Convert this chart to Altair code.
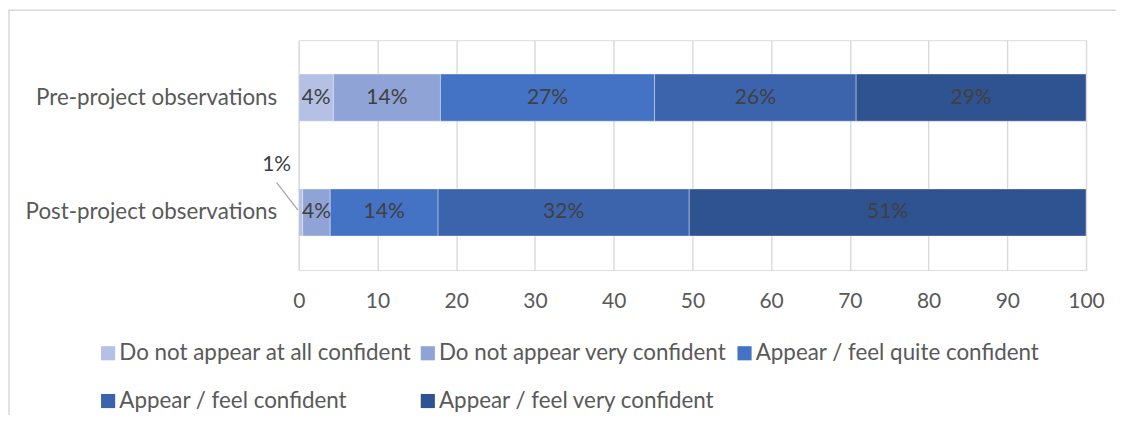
import altair as alt
import pandas as pd

categories = ["Pre-project observations", "Post-project observations"]
levels = [
    "Do not appear at all confident",
    "Do not appear very confident",
    "Appear / feel quite confident",
    "Appear / feel confident",
    "Appear / feel very confident",
]
colors = ["#b4c1e4", "#8fa3d6", "#4472c4", "#3b64ad", "#2f5291"]
pre_values = [4.4, 13.6, 27.2, 25.6, 29.2]
post_values = [0.5, 3.5, 13.7, 31.9, 50.4]
pre_labels = ["4%", "14%", "27%", "26%", "29%"]
post_labels = ["", "4%", "14%", "32%", "51%"]

# outside annotation for the small post-project segment
callout_text = ["1%"]
callout_x = [-2.8]
callout_y = [0.91]
leader_x = [-2.8, -0.1]
leader_y = [0.76, 0.52]

# legend is laid out column by column (2 rows): reorder so rows read like the original
legend_order = [0, 3, 1, 4, 2]

FONT = "Lato"

rows = []
for cat, vals, labs in [(categories[0], pre_values, pre_labels), (categories[1], post_values, post_labels)]:
    for i, (lev, v, lab) in enumerate(zip(levels, vals, labs)):
        rows.append({"cat": cat, "level": lev, "order": i, "value": v, "label": lab})
df = pd.DataFrame(rows)

base = alt.Chart(df).transform_stack(
    stack="value", groupby=["cat"], as_=["x0", "x1"], sort=[alt.SortField("order")]
).transform_calculate(mid="(datum.x0 + datum.x1) / 2")

yenc = alt.Y(
    "cat:N",
    sort=categories,
    title=None,
    scale=alt.Scale(paddingInner=0.59, paddingOuter=0.295),
    axis=alt.Axis(
        labelFontSize=22.4, labelColor="#595959", labelFont=FONT, labelLimit=500,
        ticks=False, domain=False, labelPadding=22, grid=False,
    ),
)

bars = base.mark_bar(stroke="#ffffff", strokeWidth=0.8, strokeOpacity=0.45).encode(
    x=alt.X(
        "x0:Q",
        title=None,
        scale=alt.Scale(domain=[0, 100], nice=False),
        axis=alt.Axis(
            values=list(range(0, 101, 10)), labelFontSize=21, labelColor="#595959",
            labelFont=FONT, ticks=False, domain=False, labelPadding=21,
            labelFlush=False, labelOverlap=False,
            grid=True, gridColor="#d9d9d9", gridWidth=1.4,
        ),
    ),
    x2="x1:Q",
    y=yenc,
    color=alt.Color(
        "level:N",
        scale=alt.Scale(
            domain=[levels[i] for i in legend_order],
            range=[colors[i] for i in legend_order],
        ),
        legend=alt.Legend(
            title=None, orient="none", legendX=-202, legendY=302, columns=3,
            symbolType="square", symbolSize=200, symbolStrokeWidth=0,
            labelFontSize=22.4, labelColor="#595959", labelFont=FONT,
            labelOffset=0, columnPadding=5, rowPadding=25, labelLimit=500,
        ),
    ),
)

texts = base.mark_text(fontSize=21, color="#404040", font=FONT).encode(
    x="mid:Q",
    y=alt.Y("cat:N", sort=categories),
    text="label:N",
)

main = alt.layer(bars, texts)

ann_df = pd.DataFrame({"x": callout_x, "y": callout_y, "t": callout_text})
line_df = pd.DataFrame({"x": leader_x, "y": leader_y})
yq = alt.Scale(domain=[0, 2], nice=False, zero=True)

callout = alt.Chart(ann_df).mark_text(fontSize=21, color="#404040", font=FONT).encode(
    x=alt.X("x:Q"), y=alt.Y("y:Q", scale=yq, axis=None), text="t:N"
)
leader = alt.Chart(line_df).mark_line(color="#a6a6a6", strokeWidth=1.3).encode(
    x=alt.X("x:Q"), y=alt.Y("y:Q", scale=yq, axis=None)
)
annot = alt.layer(callout, leader)

frame = alt.Chart(pd.DataFrame({"a": [0]})).mark_rect(
    fill=None, stroke="#d9d9d9", strokeWidth=1.5
).encode(
    x=alt.value(-290), y=alt.value(-30), x2=alt.value(900), y2=alt.value(420)
)

chart = alt.layer(frame, main, annot).resolve_scale(
    y="independent"
).properties(
    width=788, height=230,
    autosize=alt.AutoSizeParams(type="none"),
    padding={"left": 291, "top": 32, "right": 30, "bottom": 145},
).configure_view(stroke=None).configure(font=FONT)

chart.save("out.html", embed_options={"renderer": "svg", "actions": False})
